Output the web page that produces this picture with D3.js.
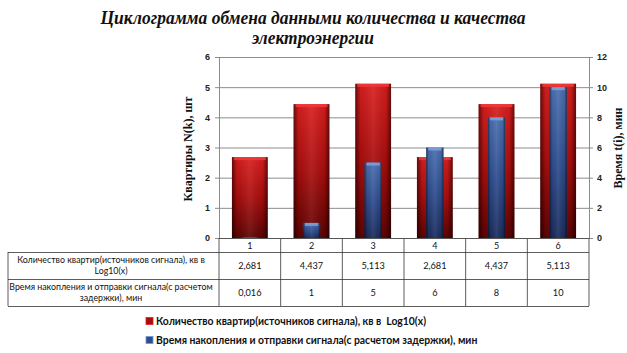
<!DOCTYPE html>
<html><head><meta charset="utf-8">
<script src="https://cdn.jsdelivr.net/npm/d3@7/dist/d3.min.js"></script>
<style>body{margin:0;background:#fff}svg{display:block}text{white-space:pre}</style>
</head><body>
<svg id="c" width="627" height="353"></svg>
<script>
const categories = ["1","2","3","4","5","6"];
const apartments = [2.681, 4.437, 5.113, 2.681, 4.437, 5.113];
const times = [0.016, 1, 5, 6, 8, 10];
const leftTicks = [0,1,2,3,4,5,6];
const rightTicks = [0,2,4,6,8,10,12];
const seriesNames = ["Количество квартир(источников сигнала), кв в  Log10(x)",
  "Время накопления и отправки сигнала(с расчетом задержки), мин"];
const rowLabels = [["Количество квартир(источников сигнала), кв в","Log10(x)"],
  ["Время накопления и отправки сигнала(с расчетом","задержки), мин"]];
const titleLines = ["Циклограмма обмена данными количества и качества","электроэнергии"];

const svg = d3.select("#c");
const L = 219, R = 589, T = 57, B = 238;
const x = d3.scaleBand().domain(categories).range([L, R]);
const yL = d3.scaleLinear().domain([0,6]).range([B, T]);
const yR = d3.scaleLinear().domain([0,12]).range([B, T]);
const fmt = v => String(v).replace(".", ",");

const defs = svg.append("defs");
function grad(id, stops, vertical){
  const g = defs.append("linearGradient").attr("id", id)
    .attr("x1",0).attr("y1",0).attr("x2", vertical?0:1).attr("y2", vertical?1:0);
  stops.forEach(s => g.append("stop").attr("offset", s[0]).attr("stop-color", s[1]).attr("stop-opacity", s[2]===undefined?1:s[2]));
}
grad("redV", [[0,"#d81e1e"],[0.5,"#a80d0d"],[1,"#5c0202"]], true);
grad("blueV", [[0,"#4a6fb0"],[0.5,"#2f4d8e"],[1,"#1a2c5c"]], true);
grad("edgeH", [[0,"#000",0.55],[0.14,"#000",0.05],[0.5,"#fff",0.08],[0.86,"#000",0.05],[1,"#000",0.55]], false);

// title
svg.append("g").selectAll("text").data(titleLines).join("text")
  .attr("x", 313).attr("y", (d,i)=> 24 + i*20).attr("text-anchor","middle")
  .attr("font-family","Liberation Serif, serif").attr("font-weight","bold").attr("font-style","italic")
  .attr("font-size", 19).attr("fill","#111")
  .attr("textLength",(d,i)=> i===0 ? 425 : 122).attr("lengthAdjust","spacingAndGlyphs")
  .text(d=>d);

// gridlines
svg.append("g").selectAll("line").data(leftTicks).join("line")
  .attr("x1", L).attr("x2", R).attr("y1", d=>yL(d)+0.5).attr("y2", d=>yL(d)+0.5)
  .attr("stroke","#8c8c8c").attr("stroke-width",1);

// axes
const axL = svg.append("g").attr("transform",`translate(${L},0)`)
  .call(d3.axisLeft(yL).tickValues(leftTicks).tickFormat(d3.format("d")).tickSize(4).tickPadding(5));
const axR = svg.append("g").attr("transform",`translate(${R},0)`)
  .call(d3.axisRight(yR).tickValues(rightTicks).tickFormat(d3.format("d")).tickSize(4).tickPadding(4));
[axL, axR].forEach(a => {
  a.select(".domain").attr("stroke","#8c8c8c");
  a.selectAll(".tick line").attr("stroke","#8c8c8c");
  a.selectAll("text").attr("font-family","Liberation Sans, Arial, sans-serif").attr("font-weight","bold")
   .attr("font-size",9).attr("fill","#222");
});

// bars
function bars(data, scale, wFrac, fillId, capColor){
  const bw = x.bandwidth()*wFrac;
  const g = svg.append("g");
  const gs = g.selectAll("g").data(data).join("g");
  gs.append("rect").attr("x",(d,i)=>x(categories[i])+(x.bandwidth()-bw)/2).attr("width",bw)
    .attr("y",d=>scale(d)).attr("height",d=>B-scale(d)).attr("fill",`url(#${fillId})`);
  gs.append("rect").attr("x",(d,i)=>x(categories[i])+(x.bandwidth()-bw)/2).attr("width",bw)
    .attr("y",d=>scale(d)).attr("height",d=>B-scale(d)).attr("fill","url(#edgeH)");
  gs.append("rect").attr("x",(d,i)=>x(categories[i])+(x.bandwidth()-bw)/2+2).attr("width",bw-4)
    .attr("y",d=>scale(d)).attr("height",d=>Math.min(3,B-scale(d))).attr("fill",capColor).attr("opacity",0.85);
}
bars(apartments, yL, 0.58, "redV", "#f03a3a");
bars(times, yR, 0.28, "blueV", "#7ea3d8");

// table
const tbl = svg.append("g");
const rowsY = [238, 252, 279, 306];
const tx0 = 8;
const stroke = "#333";
tbl.selectAll("line.cv").data(d3.range(categories.length+1)).join("line")
  .attr("x1",i=> i<categories.length? x(categories[i]) : R).attr("x2",i=> i<categories.length? x(categories[i]) : R)
  .attr("y1",rowsY[0]).attr("y2",rowsY[3]).attr("stroke",stroke).attr("stroke-width",0.8);
tbl.append("line").attr("x1",tx0).attr("x2",tx0).attr("y1",rowsY[1]).attr("y2",rowsY[3]).attr("stroke",stroke).attr("stroke-width",0.8);
tbl.append("line").attr("x1",L).attr("x2",R).attr("y1",rowsY[0]+0.5).attr("y2",rowsY[0]+0.5).attr("stroke","#555");
[1,2,3].forEach(r => tbl.append("line").attr("x1",tx0).attr("x2",R).attr("y1",rowsY[r]+0.5).attr("y2",rowsY[r]+0.5).attr("stroke",stroke).attr("stroke-width",0.8));

const tf = "Lato, 'Open Sans', sans-serif";
tbl.selectAll("text.cat").data(categories).join("text")
  .attr("x",d=>x(d)+x.bandwidth()/2).attr("y",249).attr("text-anchor","middle")
  .attr("font-family",tf).attr("font-size",9).attr("fill","#111").text(d=>d);
[apartments, times].forEach((arr, r) => {
  const cy = (rowsY[r+1]+rowsY[r+2])/2 + 3;
  tbl.selectAll("text.v"+r).data(arr).join("text")
    .attr("x",(d,i)=>x(categories[i])+x.bandwidth()/2).attr("y",cy).attr("text-anchor","middle")
    .attr("font-family",tf).attr("font-size",9.2).attr("fill","#111").text(d=>fmt(d));
  tbl.selectAll("text.l"+r).data(rowLabels[r]).join("text")
    .attr("x",111).attr("y",(d,i)=>rowsY[r+1]+11+i*11).attr("text-anchor","middle")
    .attr("font-family",tf).attr("font-size",8.8).attr("fill","#111").text(d=>d);
});

// legend
const lg = svg.append("g");
const legColors = [["#a80d0d","#e02020"],["#2f4d8e","#6f98d8"]];
seriesNames.forEach((n,i) => {
  const yy = 321 + i*19;
  lg.append("rect").attr("x",146).attr("y",yy-3.5).attr("width",7).attr("height",7).attr("fill",legColors[i][0]).attr("stroke",legColors[i][1]).attr("stroke-width",0.8);
  lg.append("text").attr("x",156).attr("y",yy+3.5).attr("font-family",tf).attr("font-weight","bold")
    .attr("font-size",10.4).attr("fill","#111").text(n);
});

// axis titles
svg.append("text").attr("transform","translate(192,149) rotate(-90)").attr("text-anchor","middle")
  .attr("font-family","Liberation Serif, serif").attr("font-weight","bold").attr("font-size",12).attr("fill","#111")
  .text("Квартиры N(k), шт");
svg.append("text").attr("transform","translate(622,148) rotate(-90)").attr("text-anchor","middle")
  .attr("font-family","Liberation Serif, serif").attr("font-weight","bold").attr("font-size",12).attr("fill","#111")
  .text("Время t(i), мин");
</script>
</body></html>
